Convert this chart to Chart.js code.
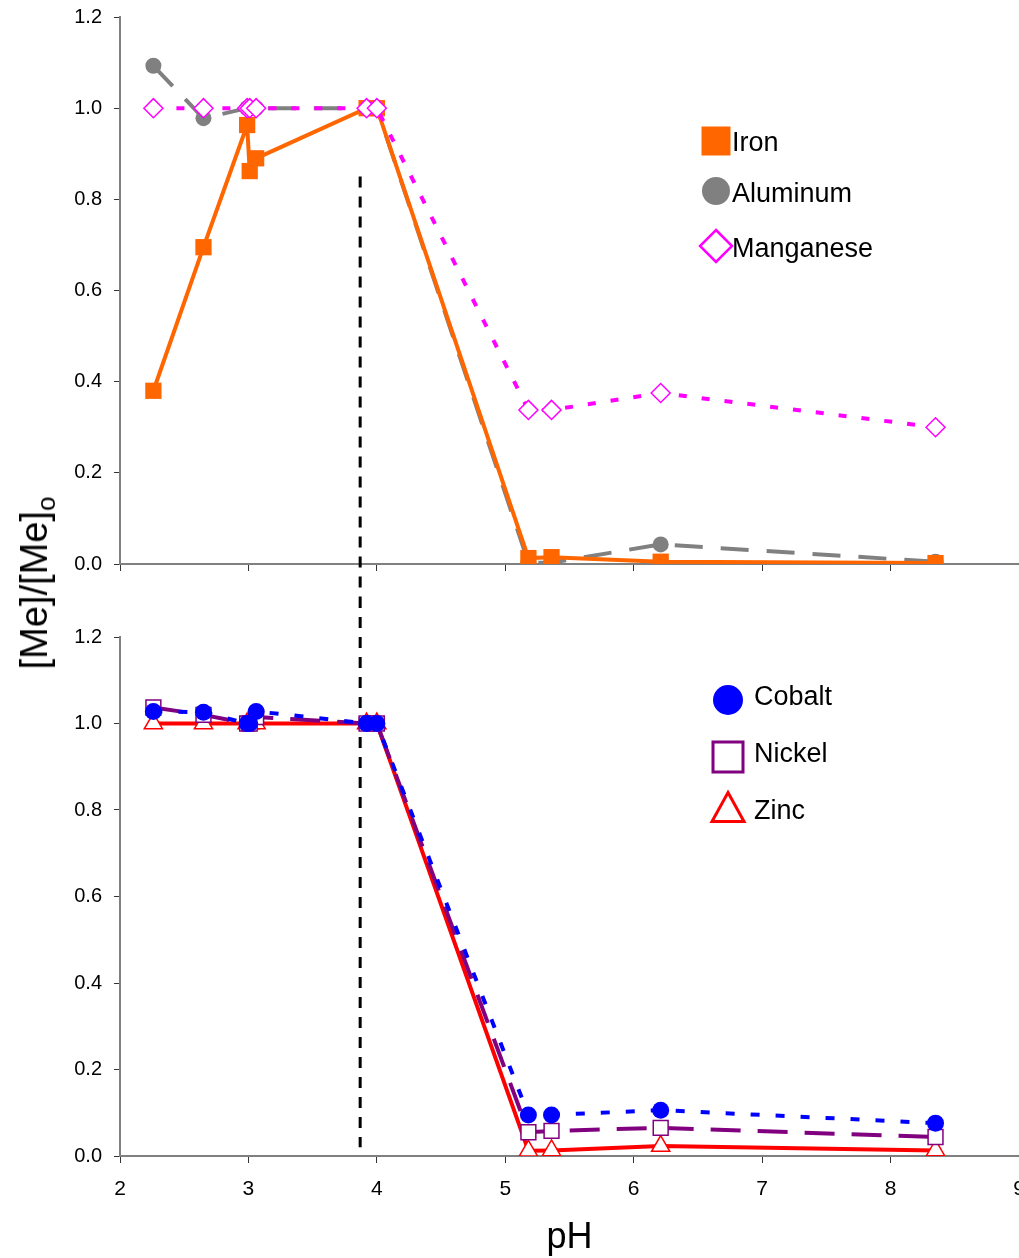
<!DOCTYPE html>
<html>
<head>
<meta charset="utf-8">
<script src="https://cdn.jsdelivr.net/npm/chart.js@4.4.1/dist/chart.umd.min.js"></script>
<style>
  html, body { margin: 0; padding: 0; background: #fff; overflow: hidden; }
  #wrap { position: relative; width: 1019px; height: 1258px; }
  canvas { position: absolute; left: 0; }
  #topChart { top: 0; }
  #bottomChart { top: 600px; }
  #yTitle {
    position: absolute; left: 34px; top: 583px;
    transform: translate(-50%, -50%) rotate(-90deg);
    font: 38px "Liberation Sans", Arial, sans-serif;
    white-space: nowrap; line-height: 1;
  }
  #yTitle sub { font-size: 26px; vertical-align: -0.3em; line-height: 0; }
</style>
</head>
<body>
<div id="wrap">
  <canvas id="topChart" width="1019" height="600"></canvas>
  <canvas id="bottomChart" width="1019" height="658"></canvas>
  <div id="yTitle">[Me]/[Me]<sub>o</sub></div>
</div>
<script>
// pH of each sample (same samples in both panels)
const phValues = [2.26, 2.65, 2.99, 3.01, 3.06, 3.92, 4.0, 5.18, 5.36, 6.21, 8.35]

// top panel, [Me]/[Me]o
const iron      = [0.38, 0.695, 0.963, 0.862, 0.89, 1.0, 1.0, 0.013, 0.015, 0.005, 0.002]
const aluminum  = [1.093, 0.978, 1.0, 1.0, 1.0, 1.0, 1.0, 0.003, 0.003, 0.043, 0.005]
const manganese = [1.0, 1.0, 1.0, 1.0, 1.0, 1.0, 1.0, 0.338, 0.338, 0.375, 0.30]

// bottom panel
const cobalt = [1.028, 1.026, 1.0, 1.0, 1.028, 1.0, 1.0, 0.095, 0.095, 0.106, 0.076]
const nickel = [1.037, 1.02, 1.0, 1.0, 1.015, 1.0, 1.0, 0.055, 0.058, 0.065, 0.044]
const zinc   = [1.0, 1.0, 1.0, 1.0, 1.0, 1.0, 1.0, 0.012, 0.013, 0.023, 0.013]

const phTicks = [2, 3, 4, 5, 6, 7, 8, 9]
const ratioTicks = [0, 0.2, 0.4, 0.6, 0.8, 1.0, 1.2]

// dashed divider line
const dividerPh = 3.87
const dividerTop = 0.85
const dividerBottom = 0.02

const SANS = '"Liberation Sans", Arial, sans-serif'
const NARROW = '"Liberation Sans Narrow", "Liberation Sans", Arial, sans-serif'

let topGraph, bottomGraph

function series(label, values, color, extra) {
  return Object.assign({
    label: label,
    data: phValues.map((x, i) => ({ x: x, y: values[i] })),
    borderColor: color,
    pointBorderColor: color,
    pointBackgroundColor: color,
    borderWidth: 4,
    tension: 0,
    fill: false
  }, extra)
}

function makeScales(bottom, xHeight) {
  return {
    x: {
      type: 'linear', min: 2, max: 9,
      afterBuildTicks: s => { s.ticks = phTicks.map(v => ({ value: v })) },
      afterFit: s => { s.height = xHeight; s.paddingLeft = 0; s.paddingRight = 0 },
      grid: { drawOnChartArea: false, tickLength: 7, color: '#333', lineWidth: 1 },
      border: { color: '#808080', width: 2 },
      ticks: {
        color: bottom ? '#000' : 'transparent',
        padding: 14,
        font: { family: NARROW, size: 21 }
      },
      title: {
        display: bottom, text: 'pH', color: '#000',
        padding: { top: 0, bottom: -2 },
        font: { family: NARROW, size: 36 }
      }
    },
    y: {
      min: 0, max: 1.2,
      afterBuildTicks: s => { s.ticks = ratioTicks.map(v => ({ value: v })) },
      afterFit: s => { s.width = 120; s.paddingTop = 0; s.paddingBottom = 0 },
      grid: { drawOnChartArea: false, tickLength: 6, color: '#333', lineWidth: 1 },
      border: { color: '#808080', width: 2 },
      ticks: {
        color: '#000', padding: 12,
        font: { family: SANS, size: 20 },
        callback: v => v.toFixed(1)
      }
    }
  }
}

function drawMarker(ctx, m, x, y) {
  ctx.fillStyle = m.fill
  ctx.strokeStyle = m.stroke
  ctx.lineWidth = m.lineWidth || 0
  ctx.beginPath()
  if (m.style === 'rect') {
    ctx.rect(x - m.size / 2, y - m.size / 2, m.size, m.size)
  } else if (m.style === 'circle') {
    ctx.arc(x, y, m.size / 2, 0, Math.PI * 2)
  } else if (m.style === 'rectRot') {
    const r = m.size / 2
    ctx.moveTo(x, y - r); ctx.lineTo(x + r, y); ctx.lineTo(x, y + r); ctx.lineTo(x - r, y); ctx.closePath()
  } else if (m.style === 'triangle') {
    const w = m.size / 2, h = m.size * 0.9 / 2
    ctx.moveTo(x, y - h); ctx.lineTo(x + w, y + h); ctx.lineTo(x - w, y + h); ctx.closePath()
  }
  ctx.fill()
  if (m.lineWidth) ctx.stroke()
}

// legend drawn inside the plot, like the original
const panelLegend = {
  id: 'panelLegend',
  afterDraw(chart, args, opts) {
    const ctx = chart.ctx
    ctx.save()
    ctx.font = opts.font
    ctx.textBaseline = 'middle'
    opts.items.forEach((item, i) => {
      drawMarker(ctx, item, opts.markerX, opts.markerY[i])
      ctx.fillStyle = '#000'
      ctx.fillText(item.label, opts.textX, opts.textY[i])
    })
    ctx.restore()
  }
}

const dividerLine = {
  id: 'dividerLine',
  beforeDatasetsDraw(chart, args, opts) {
    const ctx = chart.ctx
    const px = chart.scales.x.getPixelForValue(dividerPh)
    const y0 = opts.from != null ? chart.scales.y.getPixelForValue(opts.from) : 0
    const y1 = opts.to != null ? chart.scales.y.getPixelForValue(opts.to) : chart.height
    ctx.save()
    ctx.strokeStyle = '#000'
    ctx.lineWidth = 3
    ctx.setLineDash([11, 9])
    ctx.lineDashOffset = opts.dashOffset || 0
    ctx.beginPath()
    ctx.moveTo(px, y0)
    ctx.lineTo(px, y1)
    ctx.stroke()
    ctx.restore()
  }
}

function init() {
  topGraph = new Chart(document.getElementById('topChart'), {
    type: 'line',
    data: {
      datasets: [
        series('Manganese', manganese, '#FF00FF', {
          borderDash: [8, 15], pointStyle: 'rectRot', pointRadius: 9.5,
          pointBackgroundColor: '#fff', pointBorderWidth: 1.5
        }),
        series('Iron', iron, '#FF6600', { pointStyle: 'rect', pointRadius: 11.5, pointBorderWidth: 0 }),
        series('Aluminum', aluminum, '#808080', {
          borderDash: [28, 18], pointStyle: 'circle', pointRadius: 8, pointBorderWidth: 0
        })
      ]
    },
    options: {
      responsive: false,
      animation: false,
      layout: { autoPadding: false, padding: { top: 17, left: 0, right: 0, bottom: 0 } },
      scales: makeScales(false, 36),
      plugins: {
        legend: { display: false },
        tooltip: { enabled: false },
        dividerLine: { from: dividerTop },
        panelLegend: {
          font: '27px ' + SANS, markerX: 716, textX: 732,
          markerY: [141, 191, 246], textY: [144, 195, 250],
          items: [
            { label: 'Iron', style: 'rect', size: 29, fill: '#FF6600', stroke: '#FF6600' },
            { label: 'Aluminum', style: 'circle', size: 28, fill: '#808080', stroke: '#808080' },
            { label: 'Manganese', style: 'rectRot', size: 32, fill: '#fff', stroke: '#FF00FF', lineWidth: 2.5 }
          ]
        }
      }
    },
    plugins: [dividerLine, panelLegend]
  })

  bottomGraph = new Chart(document.getElementById('bottomChart'), {
    type: 'line',
    data: {
      datasets: [
        series('Cobalt', cobalt, '#0000FF', {
          borderDash: [9, 16], pointStyle: 'circle', pointRadius: 8.5, pointBorderWidth: 0
        }),
        series('Nickel', nickel, '#800080', {
          borderDash: [30, 17], pointStyle: 'rect', pointRadius: 10.5,
          pointBackgroundColor: '#fff', pointBorderWidth: 1.5
        }),
        series('Zinc', zinc, '#FF0000', {
          pointStyle: 'triangle', pointRadius: 10.5,
          pointBackgroundColor: '#fff', pointBorderWidth: 1.5
        })
      ]
    },
    options: {
      responsive: false,
      animation: false,
      layout: { autoPadding: false, padding: { top: 37, left: 0, right: 0, bottom: 0 } },
      scales: makeScales(true, 102),
      plugins: {
        legend: { display: false },
        tooltip: { enabled: false },
        dividerLine: { to: dividerBottom, dashOffset: 3 },
        panelLegend: {
          font: '27px ' + SANS, markerX: 728, textX: 754,
          markerY: [100, 157, 207], textY: [98, 155, 212],
          items: [
            { label: 'Cobalt', style: 'circle', size: 30, fill: '#0000FF', stroke: '#0000FF' },
            { label: 'Nickel', style: 'rect', size: 30, fill: '#fff', stroke: '#800080', lineWidth: 3 },
            { label: 'Zinc', style: 'triangle', size: 32, fill: '#fff', stroke: '#FF0000', lineWidth: 3 }
          ]
        }
      }
    },
    plugins: [dividerLine, panelLegend]
  })
}

init()
</script>
</body>
</html>
